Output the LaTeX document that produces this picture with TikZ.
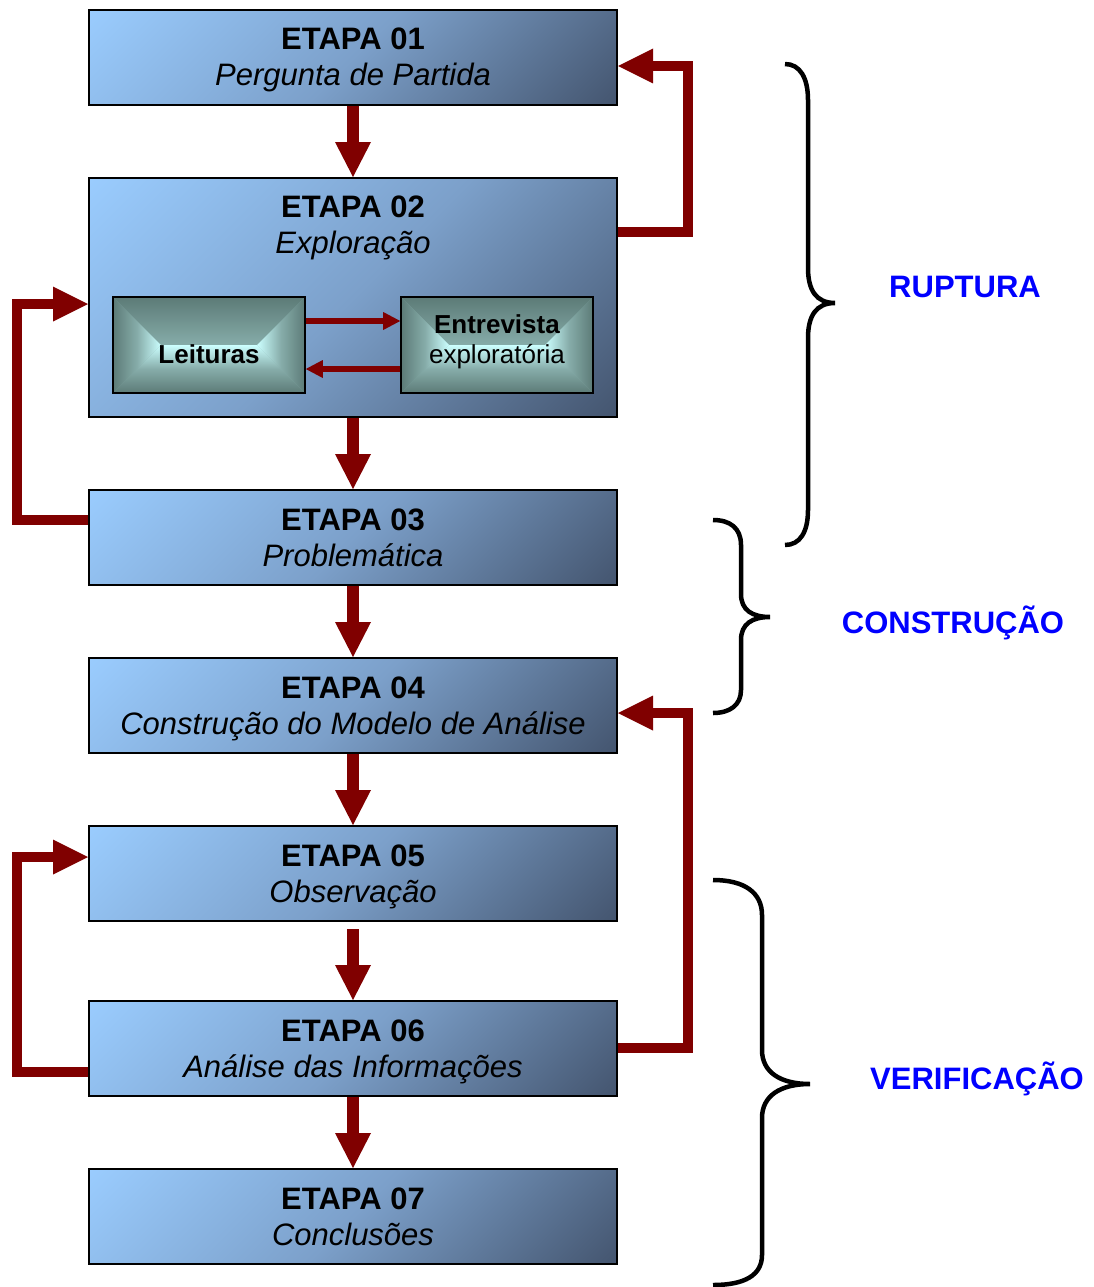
\documentclass[tikz,border=0pt]{standalone}
\usepackage{fontspec}
\setmainfont{Liberation Sans}
\usetikzlibrary{arrows.meta}
\definecolor{arrowred}{HTML}{800000}
\definecolor{boxlight}{HTML}{9ACCFE}
\definecolor{boxmid}{HTML}{7CA0CA}
\definecolor{boxdark}{HTML}{44556F}
\definecolor{innerlight}{HTML}{CCFFFF}
\definecolor{innermid}{HTML}{86ACA9}
\definecolor{innerdark}{HTML}{5C7B77}
\definecolor{labelblue}{HTML}{0000FF}
\pgfdeclareverticalshading{stageshade}{100bp}{color(0bp)=(boxdark); color(14.6bp)=(boxdark); color(50bp)=(boxmid); color(85.4bp)=(boxlight); color(100bp)=(boxlight)}
\newcommand\etapatext[2]{\rule{0pt}{22pt}\textbf{#1}\\\smash{\textit{#2}}\rule[-1pt]{0pt}{1pt}}
\newcommand\innertext[2]{\rule{0pt}{19pt}#1\\\smash{#2}\rule[-13pt]{0pt}{13pt}}
\begin{document}
\begin{tikzpicture}[x=1pt,y=-1pt,
  stagetext/.style={align=center, inner sep=0pt, font=\fontsize{31}{36}\selectfont},
  stage/.style={stagetext, draw=black, line width=2pt, minimum width=528pt, minimum height=95pt,
    shade, shading=stageshade, shading angle=45},
  innerbox/.style={draw=black, line width=1.6pt, minimum width=192pt, minimum height=96pt,
    inner sep=0pt, align=center, font=\fontsize{26}{30}\selectfont, fill=innermid,
    path picture={
      \shade[top color=innerdark, bottom color=innerlight, middle color=innermid]
        (path picture bounding box.north west) -- (path picture bounding box.north east)
        -- ([xshift=48pt]path picture bounding box.center)
        -- ([xshift=-48pt]path picture bounding box.center) -- cycle;
      \shade[top color=innerlight, bottom color=innerdark, middle color=innermid]
        (path picture bounding box.south west) -- (path picture bounding box.south east)
        -- ([xshift=48pt]path picture bounding box.center)
        -- ([xshift=-48pt]path picture bounding box.center) -- cycle;
      \shade[left color=innerdark, right color=innerlight, middle color=innermid]
        (path picture bounding box.north west) -- (path picture bounding box.south west)
        -- ([xshift=-48pt]path picture bounding box.center) -- cycle;
      \shade[left color=innerlight, right color=innerdark, middle color=innermid]
        (path picture bounding box.north east) -- (path picture bounding box.south east)
        -- ([xshift=48pt]path picture bounding box.center) -- cycle;
    }},
  downarrow/.style={draw=arrowred, line width=12pt, -{Triangle[length=35pt,width=36pt,line width=0pt]}},
  fbarrow/.style={draw=arrowred, line width=10pt, line join=miter, -{Triangle[length=35pt,width=35pt,line width=0pt]}},
  smallarrow/.style={draw=arrowred, line width=6pt, -{Triangle[length=17pt,width=18pt,line width=0pt]}},
  bracepath/.style={draw=black, line width=4.5pt},
  phase/.style={anchor=base, text=labelblue, inner sep=0pt, font=\fontsize{31}{36}\selectfont\bfseries}
]
\useasboundingbox (0,0) rectangle (1094,1287);

% stages
\node[stage] (b1) at (353,57.5) {\etapatext{ETAPA 01}{Pergunta de Partida}};
\node[stage, minimum height=239pt] (b2) at (353,297.5) {};
\node[stagetext] (b2t) at (353,225) {\etapatext{ETAPA 02}{Exploração}};
\node[stage] (b3) at (353,537.5) {\etapatext{ETAPA 03}{Problemática}};
\node[stage] (b4) at (353,705.5) {\etapatext{ETAPA 04}{Construção do Modelo de Análise}};
\node[stage] (b5) at (353,873.5) {\etapatext{ETAPA 05}{Observação}};
\node[stage] (b6) at (353,1048.5) {\etapatext{ETAPA 06}{Análise das Informações}};
\node[stage] (b7) at (353,1216.5) {\etapatext{ETAPA 07}{Conclusões}};

% inner boxes
\node[innerbox] (lei) at (209,345) {\innertext{}{\textbf{Leituras}}};
\node[innerbox] (ent) at (497,345) {\innertext{\textbf{Entrevista}}{exploratória}};

% vertical arrows
\draw[downarrow] (b1) -- (b2);
\draw[downarrow] (b2) -- (b3);
\draw[downarrow] (b3) -- (b4);
\draw[downarrow] (b4) -- (b5);
\draw[downarrow, shorten <=7pt] (b5) -- (b6);
\draw[downarrow] (b6) -- (b7);

% inner arrows
\draw[smallarrow] (lei.east |- 0,321) -- (ent.west |- 0,321);
\draw[smallarrow] (ent.west |- 0,369) -- (lei.east |- 0,369);

% feedback arrows
\draw[fbarrow] (b2.east |- 0,232) -- (688,232) -- (688,66) -- (b1.east |- 0,66);
\draw[fbarrow] (b3.west |- 0,520) -- (17,520) -- (17,304) -- (b2.west |- 0,304);
\draw[fbarrow] (b6.east |- 0,1048) -- (688,1048) -- (688,713) -- (b4.east |- 0,713);
\draw[fbarrow] (b6.west |- 0,1072) -- (17,1072) -- (17,857) -- (b5.west |- 0,857);

% braces
\draw[bracepath] (785,64) .. controls (800,64) and (808,78) .. (808,100) -- (808,268)
  .. controls (808,290) and (816,303) .. (835,303)
  .. controls (816,303) and (808,316) .. (808,338) -- (808,510)
  .. controls (808,532) and (800,545) .. (785,545);
\draw[bracepath] (713,520) .. controls (730,520) and (741,528) .. (741,545) -- (741,594)
  .. controls (741,610) and (752,617) .. (770,617)
  .. controls (752,617) and (741,624) .. (741,640) -- (741,690)
  .. controls (741,705) and (730,713) .. (713,713);
\draw[bracepath] (713,880) .. controls (745,880) and (762,893) .. (762,915) -- (762,1050)
  .. controls (762,1072) and (780,1084) .. (810,1084)
  .. controls (780,1084) and (762,1096) .. (762,1118) -- (762,1255)
  .. controls (762,1275) and (745,1285) .. (713,1285);

% phase labels
\node[phase] (ruptura) at (965,297) {RUPTURA};
\node[phase] (construcao) at (953,633) {CONSTRUÇÃO};
\node[phase] (verificacao) at (977,1089) {VERIFICAÇÃO};
\end{tikzpicture}
\end{document}
